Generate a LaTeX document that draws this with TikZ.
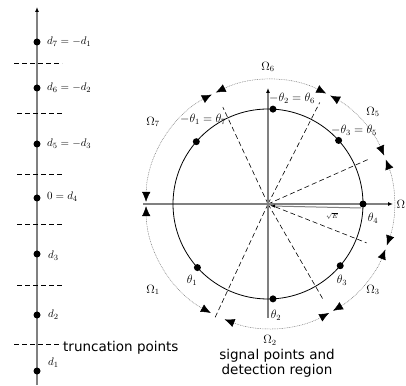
\documentclass[tikz,border=0pt]{standalone}
\usepackage{fontspec}
\newfontfamily\labelfont{DejaVu Sans}
\usetikzlibrary{arrows.meta}
\begin{document}
\begin{tikzpicture}[x=1pt,y=1pt,
  axisline/.style={draw=black!50, line width=1.2pt},
  axtip/.style={-{Latex[length=5pt,width=4pt,color=black]}},
  bound/.style={draw=black, line width=0.6pt, dash pattern=on 5pt off 3pt},
  regionarc/.style={draw=black!55, line width=0.5pt, dash pattern=on 0.8pt off 0.9pt,
    {Latex[length=10pt,width=8.5pt,color=black]}-{Latex[length=10pt,width=8.5pt,color=black]}},
  dot/.style={circle, fill=black, inner sep=0pt, minimum size=7pt},
  lab/.style={inner sep=0pt, font=\fontsize{11}{13}\selectfont},
  glab/.style={inner sep=0pt, font=\fontsize{12}{14}\selectfont},
  sanslab/.style={inner sep=0pt, font=\labelfont\fontsize{13.5}{15}\selectfont, align=center},
]
\useasboundingbox (0,0) rectangle (406,385);
% ---------- left: PAM axis ----------
\coordinate (lb) at (37,0);
\coordinate (lt) at (37,378);
\draw[axisline, axtip] (lb) -- (lt);
\foreach \n/\y in {7/343,6/297,5/241,4/187,3/131,2/70,1/14}
  \node[dot] (p\n) at (37,\y) {};
\node[lab, anchor=west] (l7) at (47,343) {$d_7=-d_1$};
\node[lab, anchor=west] (l6) at (47,297) {$d_6=-d_2$};
\node[lab, anchor=west] (l5) at (47,241) {$d_5=-d_3$};
\node[lab, anchor=west] (l4) at (47,188) {$0=d_4$};
\node[lab, anchor=west] (l3) at (48,129) {$d_3$};
\node[lab, anchor=west] (l2) at (48,70) {$d_2$};
\node[lab, anchor=west] (l1) at (48,22) {$d_1$};
\foreach \y/\xa in {322/14, 272/17, 211/17, 161/17, 100/17}
  \draw[bound] (\xa,\y) -- (62,\y);
\node[sanslab, anchor=west] (trunc) at (63,37) {truncation points};
\coordinate (tl) at (14,41);
\draw[bound] (tl) -- (62,41);
% ---------- right: circle ----------
\coordinate (C) at (268,181);
\coordinate (O) at (270,181);
\coordinate (hl) at (143,181);
\coordinate (hr) at (393,181);
\coordinate (vb) at (268,67);
\coordinate (vt) at (268,297);
% outer region arcs
\foreach \a/\b in {181/241.5, 248.5/298.5, 300.5/338.5, 340.5/381, 383/421, 423/476, 478/539}
  \draw[regionarc] ([shift={(\a:124)}]O) arc[start angle=\a, end angle=\b, radius=124];
% decision boundaries
\foreach \a/\l in {115/107, 63/114, 24/111, -21.5/106, -60/111, -115/126}
  \draw[bound] (C) -- ++(\a:\l);
\draw[axisline, axtip] (hl) -- (hr);
\draw[axisline, axtip] (vb) -- (vt);
\draw[black, line width=0.8pt] (C) circle[radius=95];
\foreach \n/\a in {4/0, 5/42, 6/87, 7/139, 3/-40.5, 2/-87, 1/-138}
  \node[dot] (s\n) at ([shift={(\a:95)}]C) {};
\coordinate (vecA) at (361,177);
\coordinate (vecB) at (271,179);
\draw[draw=black!50, line width=1pt, -{Latex[length=4pt,width=3.5pt,color=black]}] (vecA) -- (vecB);
\node[inner sep=0pt, font=\fontsize{6}{7}\selectfont] (sqE) at (332,169) {$\sqrt{E}$};
% labels
\node[glab] (o6) at (268,318) {$\Omega_6$};
\node[glab] (o7) at (153,263) {$\Omega_7$};
\node[glab] (o5) at (373,273) {$\Omega_5$};
\node[glab, anchor=west] (o4) at (396.5,181) {$\Omega$};
\node[glab] (o3) at (373,95) {$\Omega_3$};
\node[glab] (o2) at (270,45) {$\Omega_2$};
\node[glab] (o1) at (153,95) {$\Omega_1$};
\node[glab] (t7) at (203,266) {$-\theta_1=\theta_7$};
\node[glab] (t6) at (292,287) {$-\theta_2=\theta_6$};
\node[glab] (t5) at (354,255) {$-\theta_3=\theta_5$};
\node[glab] (t1) at (192,105) {$\theta_1$};
\node[glab] (t2) at (276,70) {$\theta_2$};
\node[glab] (t3) at (342,105) {$\theta_3$};
\node[glab] (t4) at (373,167) {$\theta_4$};
\node[sanslab] (cap) at (277,21.5) {signal points and\\detection region};
\end{tikzpicture}
\end{document}
